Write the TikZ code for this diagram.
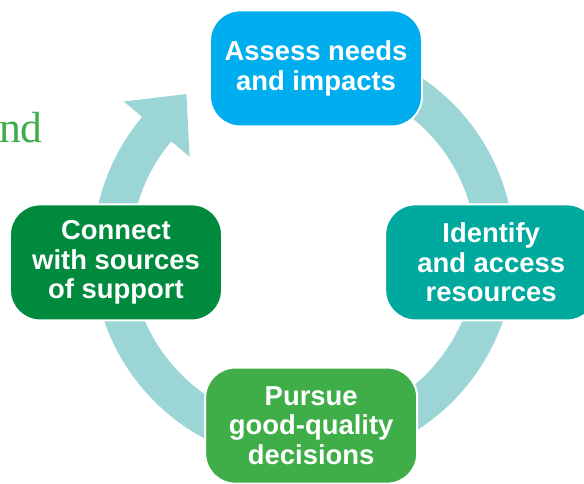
\documentclass[tikz,border=0pt]{standalone}
\usepackage{fontspec}
\newfontfamily\boxfont{Liberation Sans}
\newfontfamily\tailfont{Liberation Serif}
\usepackage{tikz}
\usetikzlibrary{positioning}
\usepackage{xcolor}
\definecolor{cycblue}{RGB}{0,174,239}
\definecolor{cycteal}{RGB}{0,169,157}
\definecolor{cycgreen}{RGB}{63,174,73}
\definecolor{cycdark}{RGB}{0,138,62}
\definecolor{ringteal}{RGB}{155,213,214}
\definecolor{tailgreen}{RGB}{61,174,73}
\tikzset{
  cyc/.style={rectangle, draw=white, line width=1.4pt,
    rounded corners=0.75cm, minimum width=5.3cm, minimum height=2.9cm,
    align=center, text=white, inner sep=4pt,
    font=\boxfont\bfseries\fontsize{19.5pt}{21pt}\selectfont},
  cycB/.style={cyc, fill=cycblue},
  cycT/.style={cyc, fill=cycteal},
  cycG/.style={cyc, fill=cycgreen},
  cycD/.style={cyc, fill=cycdark},
}

\begin{document}
\begin{tikzpicture}
  \useasboundingbox (-7.59,-5.77) rectangle (7.01,6.31);

  % Ring with arrow head, runs clockwise from under the top box
  \fill[ringteal]
    (100:5.27) arc[start angle=100, end angle=-220, radius=5.27]
    -- (140:5.87) -- (-2.93,3.96) -- (140:3.72) -- (140:4.32)
    arc[start angle=140, end angle=460, radius=4.32] -- cycle;

  % Stages
  \node[cycB] (assess)   at (0.31,4.60)   {Assess needs\\and impacts};
  \node[cycT] (identify) at (4.69,-0.25)  {Identify\\and access\\resources};
  \node[cycG] (pursue)   at (0.19,-4.33)  {Pursue\\good-quality\\decisions};
  \node[cycD] (connect)  at (-4.69,-0.25) {Connect\\with sources\\of support};

  % Word cut at the left edge
  \node[anchor=base west, inner sep=0, text=tailgreen,
        font=\tailfont\fontsize{31pt}{31pt}\selectfont] (tail)
       at (-7.62,2.74) {nd};
\end{tikzpicture}
\end{document}
